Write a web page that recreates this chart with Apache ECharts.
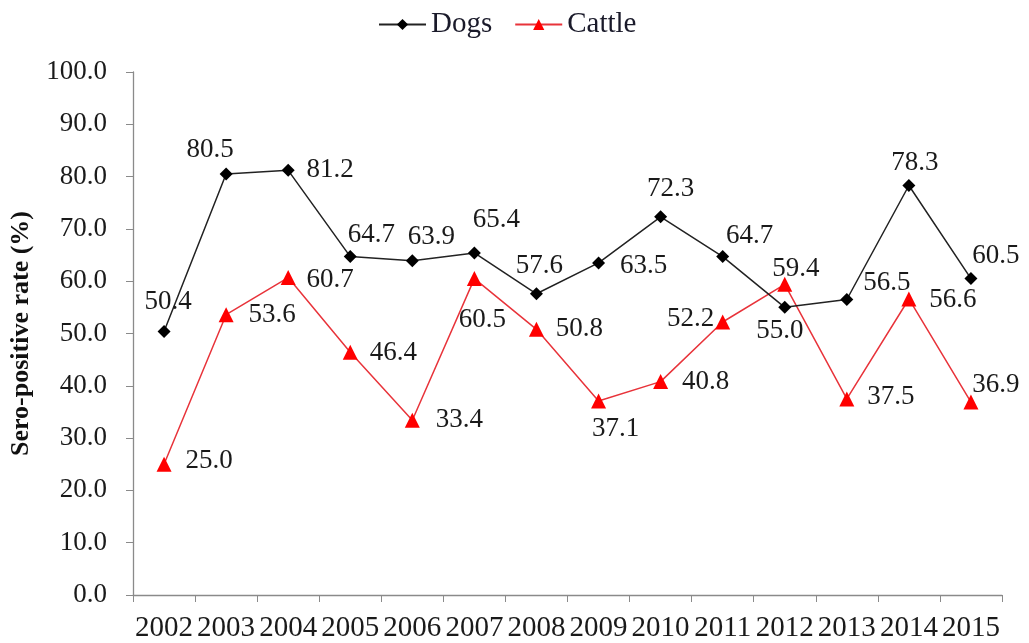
<!DOCTYPE html>
<html>
<head>
<meta charset="utf-8">
<script src="https://cdn.jsdelivr.net/npm/echarts@6/dist/echarts.min.js"></script>
<style>
  html, body { margin: 0; padding: 0; background: #fff; }
  #chart { width: 1029px; height: 643px; }
</style>
</head>
<body>
<div id="chart"></div>
<script>
// Sero-positive rates by year
const years = ['2002','2003','2004','2005','2006','2007','2008','2009','2010','2011','2012','2013','2014','2015'];
const dogs = [50.4, 80.5, 81.2, 64.7, 63.9, 65.4, 57.6, 63.5, 72.3, 64.7, 55.0, 56.5, 78.3, 60.5];
const cattle = [25.0, 53.6, 60.7, 46.4, 33.4, 60.5, 50.8, 37.1, 40.8, 52.2, 59.4, 37.5, 56.6, 36.9];
const yTicks = { min: 0, max: 100, step: 10 };

// label placement (px from marker centre), chosen to keep labels clear of the lines
const dogLabelOffsets = [[4,-30],[-16,-24],[42,0],[21,-22],[19,-24],[22,-33],[3,-28],[45,3],[10,-28],[27,-21],[-5,24],[40,-17],[6,-23],[25,-23]];
const cattleLabelOffsets = [[45,-3],[46,0],[42,2],[43,1],[47,0],[8,41],[43,0],[17,28],[45,0],[-32,-3],[11,-15],[44,-2],[44,1],[25,-17]];

const FONT = '"Liberation Serif", "Times New Roman", serif';

function withLabels(values, offsets) {
  return values.map((v, i) => ({
    value: v,
    label: { offset: offsets[i] }
  }));
}

const chart = echarts.init(document.getElementById('chart'), null, { renderer: 'canvas' });

const labelStyle = {
  show: true,
  position: 'inside',
  align: 'center',
  verticalAlign: 'middle',
  fontFamily: FONT,
  fontSize: 27,
  color: '#1a1a1a',
  formatter: p => Number(p.value).toFixed(1)
};

chart.setOption({
  animation: false,
  backgroundColor: '#ffffff',
  legend: {
    top: 5,
    left: 373,
    itemWidth: 47,
    itemHeight: 14,
    itemGap: 22,
    textStyle: { fontFamily: FONT, fontSize: 29, color: '#1a1a2a' },
    data: ['Dogs', 'Cattle']
  },
  grid: { left: 133, right: 27, top: 72, bottom: 48, outerBoundsMode: 'none', containLabel: false },
  xAxis: {
    type: 'category',
    data: years,
    boundaryGap: true,
    axisLine: { lineStyle: { color: '#8a8a8a', width: 1.3 } },
    axisTick: { show: true, alignWithLabel: false, length: 7, lineStyle: { color: '#8a8a8a' } },
    axisLabel: { fontFamily: FONT, fontSize: 29, color: '#1a1a1a', margin: 19, interval: 0, hideOverlap: false },
    splitLine: { show: false }
  },
  yAxis: {
    type: 'value',
    min: yTicks.min,
    max: yTicks.max,
    interval: yTicks.step,
    name: 'Sero-positive rate (%)',
    nameLocation: 'middle',
    nameGap: 99,
    nameTextStyle: { fontFamily: FONT, fontSize: 26, fontWeight: 'bold', color: '#111' },
    axisLine: { show: true, lineStyle: { color: '#8a8a8a', width: 1.3 } },
    axisTick: { show: true, length: 7, lineStyle: { color: '#8a8a8a' } },
    axisLabel: { fontFamily: FONT, fontSize: 27, color: '#1a1a1a', margin: 26, formatter: v => v.toFixed(1) },
    splitLine: { show: false }
  },
  series: [
    {
      name: 'Dogs',
      type: 'line',
      data: withLabels(dogs, dogLabelOffsets),
      symbol: 'diamond',
      symbolSize: 13,
      itemStyle: { color: '#000000' },
      lineStyle: { color: '#222222', width: 1.5 },
      label: labelStyle,
      z: 3
    },
    {
      name: 'Cattle',
      type: 'line',
      data: withLabels(cattle, cattleLabelOffsets),
      symbol: 'triangle',
      symbolSize: 15,
      itemStyle: { color: '#ff0000' },
      lineStyle: { color: '#e8333a', width: 1.5 },
      label: labelStyle,
      z: 2
    }
  ]
});
</script>
</body>
</html>
